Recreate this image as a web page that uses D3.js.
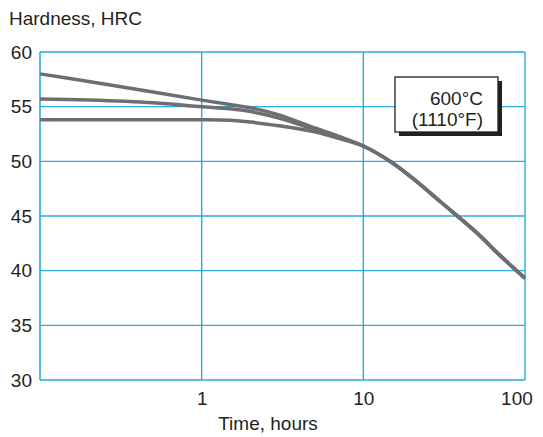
<!DOCTYPE html>
<html><head><meta charset="utf-8">
<script src="https://cdn.jsdelivr.net/npm/d3@7"></script>
<style>
html,body{margin:0;padding:0;background:#fff;}
svg{display:block;font-family:"Liberation Sans",Arial,Helvetica,sans-serif;}
</style></head>
<body><svg id="chart" width="543" height="437"></svg>
<script>
// ---- data ----
const times = [0.1, 0.2, 0.5, 1, 1.5, 2, 3, 5, 7, 10, 15, 20, 30, 50, 70, 100];
const hardnessTop    = [58.0, 57.3, 56.35, 55.6, 55.2, 54.9, 54.25, 53.05, 52.3, 51.4, 49.9, 48.5, 46.3, 43.5, 41.4, 39.3];
const hardnessMiddle = [55.7, 55.6, 55.35, 55.0, 54.8, 54.55, 53.95, 52.9, 52.2, 51.4, 49.9, 48.5, 46.3, 43.5, 41.4, 39.3];
const hardnessBottom = [53.8, 53.8, 53.8, 53.8, 53.75, 53.6, 53.25, 52.7, 52.1, 51.4, 49.9, 48.5, 46.3, 43.5, 41.4, 39.3];
const seriesList = [hardnessTop, hardnessMiddle, hardnessBottom];
const xTicks = [1, 10, 100];
const yTicks = [30, 35, 40, 45, 50, 55, 60];
const labelTemp = ["600°C", "(1110°F)"];
const yTitle = "Hardness, HRC";
const xTitle = "Time, hours";

// ---- layout ----
const svg = d3.select("#chart");
const L = 40, R = 525, T = 52, B = 380;
const grid = "#29ABE2", lineCol = "#6D6E71", txt = "#231F20";
const x = d3.scaleLog().domain([0.1, 100]).range([L, R]);
const y = d3.scaleLinear().domain([30, 60]).range([B, T]);
const fs = "19px";

// gridlines
svg.append("g").selectAll("line.h").data(yTicks).join("line")
  .attr("x1", L).attr("x2", R).attr("y1", d => y(d)).attr("y2", d => y(d))
  .attr("stroke", grid).attr("stroke-width", 1.4);
svg.append("g").selectAll("line.v").data(xTicks).join("line")
  .attr("x1", d => x(d)).attr("x2", d => x(d)).attr("y1", T).attr("y2", B)
  .attr("stroke", grid).attr("stroke-width", 1.4);
svg.append("line").attr("x1", L).attr("x2", L).attr("y1", T).attr("y2", B)
  .attr("stroke", grid).attr("stroke-width", 1.6);

// axes (labels only)
const yAxis = svg.append("g").attr("transform", `translate(${L},0)`)
  .call(d3.axisLeft(y).tickValues(yTicks).tickSize(0).tickPadding(8));
yAxis.select(".domain").remove();
yAxis.selectAll("text").attr("font-size", fs).attr("fill", txt)
  .attr("font-family", "Liberation Sans, Arial, sans-serif");

const xAxis = svg.append("g").attr("transform", `translate(0,${B})`)
  .call(d3.axisBottom(x).tickValues(xTicks).tickFormat(d3.format("d")).tickSize(0).tickPadding(12));
xAxis.select(".domain").remove();
xAxis.selectAll("text").attr("font-size", fs).attr("fill", txt)
  .attr("font-family", "Liberation Sans, Arial, sans-serif");
xAxis.selectAll(".tick").filter(d => d === 100).select("text").attr("dx", "-0.45em");

// titles
svg.append("text").attr("x", 9).attr("y", 25).attr("font-size", fs).attr("fill", txt).text(yTitle);
svg.append("text").attr("x", 268).attr("y", 430).attr("text-anchor", "middle")
  .attr("font-size", fs).attr("fill", txt).text(xTitle);

// curves
const line = d3.line().x((d, i) => x(times[i])).y(d => y(d)).curve(d3.curveCatmullRom.alpha(0.5));
svg.append("g").selectAll("path").data(seriesList).join("path")
  .attr("d", d => line(d)).attr("fill", "none").attr("stroke", lineCol)
  .attr("stroke-width", 3.5).attr("stroke-linecap", "butt");

// label box
const bx = 395, by = 77, bw = 103, bh = 55;
svg.append("rect").attr("x", bx + 4).attr("y", by + 4).attr("width", bw).attr("height", bh).attr("fill", "#231F20");
svg.append("rect").attr("x", bx).attr("y", by).attr("width", bw).attr("height", bh)
  .attr("fill", "#fff").attr("stroke", "#231F20").attr("stroke-width", 1.3);
svg.append("g").selectAll("text").data(labelTemp).join("text")
  .attr("x", 483).attr("y", (d, i) => 105 + i * 21).attr("text-anchor", "end")
  .attr("font-size", fs).attr("fill", txt).text(d => d);
</script></body></html>
